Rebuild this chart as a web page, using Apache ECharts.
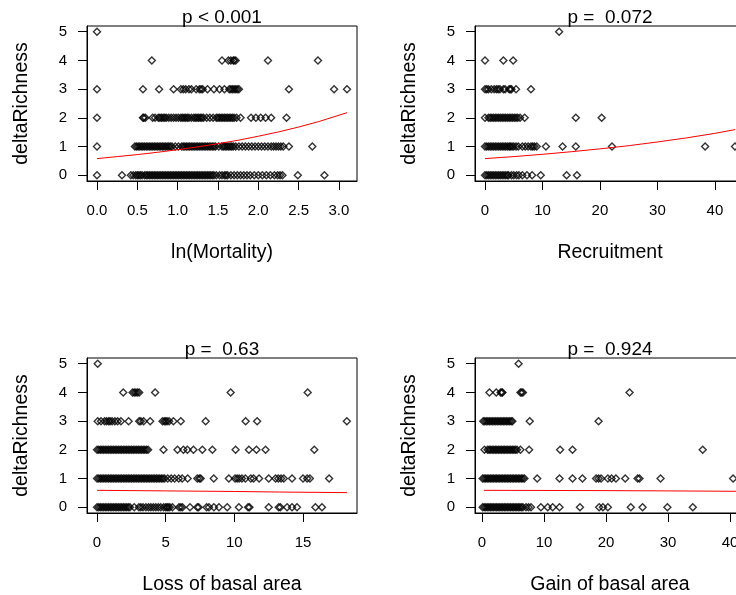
<!DOCTYPE html>
<html><head><meta charset="utf-8">
<script src="https://cdn.jsdelivr.net/npm/echarts@6/dist/echarts.min.js"></script>
<style>html,body{margin:0;padding:0;background:#fff}#c{width:736px;height:595px}</style>
</head><body><div id="c"></div>
<script>
// ---------- DATA (x values per deltaRichness level 0..5) ----------
const yLevels = [0, 1, 2, 3, 4, 5];
const yTicks = [0, 1, 2, 3, 4, 5];

// Panel 1: ln(Mortality)
const mort0 = [0.00,0.31,0.42,0.45,0.48,0.50,0.52,0.54,0.56,0.59,0.61,0.63,0.65,0.67,0.69,0.71,0.73,0.75,0.77,0.79,0.81,0.83,0.85,0.87,0.89,0.91,0.93,0.95,0.97,0.99,1.01,1.03,1.05,1.07,1.09,1.11,1.13,1.15,1.17,1.19,1.21,1.23,1.25,1.27,1.29,1.31,1.33,1.35,1.37,1.39,1.41,1.43,1.45,1.48,1.52,1.55,1.58,1.60,1.62,1.66,1.70,1.74,1.78,1.82,1.86,1.90,1.95,2.00,2.05,2.10,2.15,2.20,2.24,2.27,2.30,2.49,2.82];
const mort1 = [0.00,0.47,0.49,0.51,0.53,0.55,0.57,0.59,0.61,0.63,0.65,0.67,0.69,0.71,0.73,0.75,0.77,0.79,0.81,0.83,0.85,0.87,0.89,0.91,0.93,0.97,1.01,1.05,1.07,1.09,1.11,1.13,1.15,1.17,1.19,1.21,1.23,1.25,1.27,1.29,1.31,1.33,1.35,1.37,1.39,1.41,1.43,1.45,1.47,1.51,1.55,1.57,1.59,1.61,1.63,1.65,1.67,1.69,1.72,1.76,1.80,1.84,1.88,1.92,1.96,2.00,2.04,2.08,2.12,2.16,2.19,2.22,2.25,2.28,2.31,2.38,2.67];
const mort2 = [0.00,0.57,0.58,0.60,0.69,0.72,0.76,0.78,0.80,0.82,0.84,0.86,0.89,0.92,0.95,0.98,1.01,1.04,1.06,1.08,1.10,1.12,1.14,1.17,1.20,1.22,1.24,1.26,1.28,1.30,1.32,1.36,1.40,1.44,1.48,1.50,1.52,1.54,1.56,1.58,1.60,1.62,1.64,1.66,1.68,1.70,1.73,1.78,1.91,1.97,2.03,2.09,2.16,2.35];
const mort3 = [0.00,0.57,0.77,0.95,1.04,1.07,1.10,1.14,1.17,1.23,1.27,1.29,1.31,1.37,1.45,1.52,1.58,1.64,1.66,1.68,1.70,1.72,1.74,1.76,2.38,2.94,3.10];
const mort4 = [0.68,1.55,1.63,1.66,1.69,1.70,1.72,2.12,2.74];
const mort5 = [0.00];
const mortFit = [[0,0.58],[0.25,0.65],[0.5,0.72],[0.75,0.80],[1.0,0.89],[1.25,0.99],[1.5,1.10],[1.75,1.22],[2.0,1.36],[2.25,1.51],[2.5,1.68],[2.75,1.87],[3.1,2.18]];
const mortTicks = [0, 0.5, 1, 1.5, 2, 2.5, 3];

// Panel 2: Recruitment
const rec0 = [0.0,0.3,0.6,0.9,1.2,1.5,1.8,2.1,2.4,2.7,3.0,3.3,3.6,3.9,4.1,4.6,5.0,5.5,5.9,6.5,7.3,8.2,9.7,14.2,16.0];
const rec1 = [0.0,0.3,0.6,0.9,1.2,1.5,1.8,2.1,2.4,2.7,3.0,3.3,3.6,3.9,4.2,4.4,4.7,5.0,5.4,5.8,6.5,7.0,7.5,8.0,8.3,8.6,9.0,10.6,13.5,15.8,22.1,38.3,43.5];
const rec2 = [0.0,0.6,0.9,1.2,1.5,1.8,2.1,2.4,2.7,3.0,3.3,3.6,3.9,4.2,4.5,4.8,5.1,5.4,5.7,6.1,6.9,15.8,20.3];
const rec3 = [0.0,0.3,0.6,1.1,1.6,2.0,2.3,2.6,3.2,3.5,4.2,4.4,4.6,5.4,8.0];
const rec4 = [0.0,3.2,4.9];
const rec5 = [12.9];
const recFit = [[0,0.58],[5,0.65],[10,0.73],[15,0.82],[20,0.92],[25,1.03],[30,1.16],[35,1.30],[40,1.46],[43.5,1.59]];
const recTicks = [0, 10, 20, 30, 40];

// Panel 3: Loss of basal area
const loss0 = [0.00,0.12,0.24,0.36,0.48,0.60,0.72,0.84,0.96,1.08,1.20,1.32,1.44,1.56,1.68,1.80,1.92,2.04,2.16,2.28,2.40,2.71,3.05,3.19,3.35,3.56,3.75,3.92,4.10,4.28,4.46,4.64,4.85,5.00,5.10,5.18,5.30,5.49,5.97,6.10,6.22,6.77,7.30,7.40,7.98,8.15,8.51,8.88,9.48,10.33,11.00,11.10,12.50,13.23,13.35,13.84,14.20,14.56,15.90,16.38];
const loss1 = [0.00,0.12,0.24,0.36,0.48,0.60,0.72,0.84,0.96,1.08,1.20,1.32,1.44,1.56,1.68,1.80,1.92,2.04,2.16,2.28,2.40,2.52,2.64,2.76,2.88,3.00,3.12,3.24,3.36,3.48,3.60,3.72,3.84,3.96,4.08,4.20,4.32,4.44,4.56,4.68,4.80,4.92,5.15,5.40,5.65,5.95,6.20,6.60,7.30,7.45,7.55,8.50,9.60,10.05,10.20,10.35,10.55,10.80,11.20,11.40,11.80,12.50,13.00,13.20,13.40,13.60,14.20,15.00,15.30,15.50,16.90];
const loss2 = [0.00,0.12,0.24,0.36,0.48,0.60,0.72,0.84,0.96,1.08,1.20,1.32,1.44,1.56,1.68,1.80,1.92,2.04,2.16,2.28,2.40,2.52,2.64,2.76,2.88,3.00,3.12,3.24,3.36,3.48,3.60,3.72,4.84,5.86,6.29,6.58,7.02,7.67,8.40,10.09,11.06,11.61,12.27,15.82];
const loss3 = [0.05,0.29,0.55,0.70,0.85,0.95,1.10,1.30,1.50,1.74,2.30,3.07,3.19,3.39,3.87,4.77,4.90,5.00,5.10,5.25,5.56,6.10,7.91,10.82,11.66,18.19];
const loss4 = [1.91,2.59,2.71,2.83,2.95,3.07,4.23,9.73,15.34];
const loss5 = [0.05];
const lossFit = [[0,0.59],[5,0.57],[10,0.55],[13.3,0.53],[18.2,0.51]];
const lossTicks = [0, 5, 10, 15];

// Panel 4: Gain of basal area
const gain0 = [0.1,0.35,0.6,0.85,1.1,1.35,1.6,1.85,2.1,2.35,2.6,2.85,3.1,3.35,3.6,3.85,4.1,4.35,4.6,4.85,5.1,5.35,5.6,5.85,6.1,6.35,6.6,7.1,7.5,7.9,9.5,10.6,11.4,12.5,15.8,18.9,19.5,20.3,24.0,25.9,29.9,34.0];
const gain1 = [0.1,0.35,0.6,0.85,1.1,1.35,1.6,1.85,2.1,2.35,2.6,2.85,3.1,3.35,3.6,3.85,4.1,4.35,4.6,4.85,5.1,5.35,5.6,5.85,6.1,6.35,6.6,6.85,8.9,12.5,14.6,16.2,18.4,18.8,19.2,20.3,20.9,21.6,23.1,25.1,25.4,28.8,40.5];
const gain2 = [0.4,0.9,1.15,1.4,1.65,1.9,2.15,2.4,2.65,2.9,3.15,3.4,3.65,3.9,4.15,4.4,4.65,4.9,5.15,5.4,5.65,6.2,7.6,12.6,14.6,35.6];
const gain3 = [0.2,0.45,0.7,0.95,1.2,1.45,1.7,1.95,2.2,2.45,2.7,2.95,3.2,3.45,3.7,3.95,4.2,4.45,4.7,4.9,7.7,18.8];
const gain4 = [1.2,2.3,3.0,3.2,3.3,6.2,6.4,6.6,23.8];
const gain5 = [5.9];
const gainFit = [[0.3,0.59],[10,0.585],[20,0.58],[30,0.57],[42,0.555]];
const gainTicks = [0, 10, 20, 30, 40];

const titles = ['p < 0.001', 'p =  0.072', 'p =  0.63', 'p =  0.924'];
const xNames = ['ln(Mortality)', 'Recruitment', 'Loss of basal area', 'Gain of basal area'];
const yName = 'deltaRichness';

// ---------- BUILD ----------
const FONT = '"Liberation Sans", Arial, sans-serif';
const panels = [
  {levels:[mort0,mort1,mort2,mort3,mort4,mort5], fit:mortFit, ticks:mortTicks, min:-0.124, max:3.224, fmt:v=>v.toFixed(1), left:87, top:26},
  {levels:[rec0,rec1,rec2,rec3,rec4,rec5], fit:recFit, ticks:recTicks, min:-1.74, max:45.24, fmt:v=>String(v), left:475, top:26},
  {levels:[loss0,loss1,loss2,loss3,loss4,loss5], fit:lossFit, ticks:lossTicks, min:-0.73, max:18.93, fmt:v=>String(v), left:87, top:358},
  {levels:[gain0,gain1,gain2,gain3,gain4,gain5], fit:gainFit, ticks:gainTicks, min:-1.13, max:42.42, fmt:v=>String(v), left:475, top:358}
];
const W = 270, H = 155;
const grid = [], xAxis = [], yAxis = [], series = [], title = [];
panels.forEach((p, i) => {
  grid.push({left:p.left, top:p.top, width:W, height:H, show:true, borderColor:'#000', borderWidth:1,
    backgroundColor:'rgba(0,0,0,0)', containLabel:false, outerBoundsMode:'none'});
  xAxis.push({
    type:'value', gridIndex:i, min:p.min, max:p.max, position:'bottom',
    axisLine:{show:true, onZero:false, lineStyle:{color:'#000', width:1}},
    axisTick:{show:true, inside:false, length:9, customValues:p.ticks, lineStyle:{color:'#000', width:1}},
    axisLabel:{show:true, customValues:p.ticks, formatter:p.fmt, margin:22, color:'#000', fontSize:15, fontFamily:FONT},
    splitLine:{show:false},
    name:xNames[i], nameLocation:'middle', nameGap:62,
    nameTextStyle:{color:'#000', fontSize:19.5, fontFamily:FONT}
  });
  yAxis.push({
    type:'value', gridIndex:i, min:-0.2, max:5.2, position:'left',
    axisLine:{show:true, onZero:false, lineStyle:{color:'#000', width:1}},
    axisTick:{show:true, inside:false, length:9, customValues:yTicks, lineStyle:{color:'#000', width:1}},
    axisLabel:{show:true, customValues:yTicks, margin:20, color:'#000', fontSize:15, fontFamily:FONT},
    splitLine:{show:false},
    name:yName, nameLocation:'middle', nameGap:55,
    nameTextStyle:{color:'#000', fontSize:19.5, fontFamily:FONT}
  });
  const pts = [];
  p.levels.forEach((xs, k) => xs.forEach(x => pts.push([x, yLevels[k]])));
  series.push({
    type:'scatter', xAxisIndex:i, yAxisIndex:i, data:pts, symbol:'diamond', symbolSize:[7,7],
    itemStyle:{color:'rgba(0,0,0,0)', borderColor:'#000', borderWidth:1.4}, silent:true, z:2
  });
  series.push({
    type:'line', xAxisIndex:i, yAxisIndex:i, data:p.fit, showSymbol:false, symbol:'none', smooth:false,
    lineStyle:{color:'#ff0000', width:1}, silent:true, z:3
  });
  title.push({
    text:titles[i], left:p.left + W/2, textAlign:'center', top:p.top - 18, padding:0,
    textStyle:{color:'#000', fontSize:19, fontWeight:'normal', fontFamily:FONT}
  });
});

const chart = echarts.init(document.getElementById('c'), null, {renderer:'canvas'});
chart.setOption({
  animation:false, backgroundColor:'#fff',
  title, grid, xAxis, yAxis, series
});
</script></body></html>
